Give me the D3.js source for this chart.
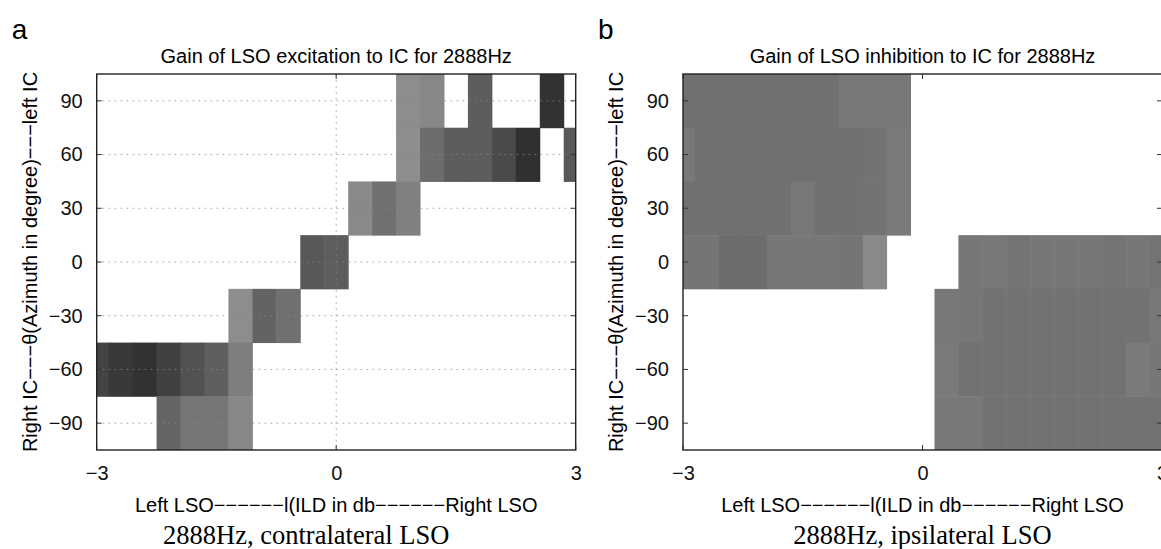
<!DOCTYPE html>
<html>
<head>
<meta charset="utf-8">
<script src="https://cdn.jsdelivr.net/npm/d3@7"></script>
<style>
  body { margin: 0; background: #fff; }
  svg { display: block; }
</style>
</head>
<body>
<div id="my_dataviz"></div>
<script>
// ILD columns (db) and azimuth rows (degree)
var ild = [-3, -2.7, -2.4, -2.1, -1.8, -1.5, -1.2, -0.9, -0.6, -0.3, 0, 0.3, 0.6, 0.9, 1.2, 1.5, 1.8, 2.1, 2.4, 2.7, 3];
var azimuth = [90, 60, 30, 0, -30, -60, -90];
var xTicks = [-3, 0, 3];
var yTicks = [90, 60, 30, 0, -30, -60, -90];

// gain of LSO excitation (contralateral), one row per azimuth
var excitation = [
  [0, 0, 0, 0, 0, 0, 0, 0, 0, 0, 0, 0, 0, 0.54, 0.57, 0, 0.77, 0, 0, 0.97, 0],
  [0, 0, 0, 0, 0, 0, 0, 0, 0, 0, 0, 0, 0, 0.54, 0.69, 0.77, 0.77, 0.86, 0.98, 0, 0.79],
  [0, 0, 0, 0, 0, 0, 0, 0, 0, 0, 0, 0.56, 0.68, 0.6, 0, 0, 0, 0, 0, 0, 0],
  [0, 0, 0, 0, 0, 0, 0, 0, 0, 0.79, 0.77, 0, 0, 0, 0, 0, 0, 0, 0, 0, 0],
  [0, 0, 0, 0, 0, 0, 0.54, 0.74, 0.68, 0, 0, 0, 0, 0, 0, 0, 0, 0, 0, 0, 0],
  [0.89, 0.94, 0.97, 0.9, 0.82, 0.76, 0.61, 0, 0, 0, 0, 0, 0, 0, 0, 0, 0, 0, 0, 0, 0],
  [0, 0, 0, 0.73, 0.65, 0.65, 0.57, 0, 0, 0, 0, 0, 0, 0, 0, 0, 0, 0, 0, 0, 0]
];

// gain of LSO inhibition (ipsilateral)
var inhibition = [
  [0.68, 0.68, 0.68, 0.68, 0.68, 0.68, 0.68, 0.64, 0.64, 0.64, 0, 0, 0, 0, 0, 0, 0, 0, 0, 0, 0],
  [0.64, 0.68, 0.68, 0.68, 0.68, 0.68, 0.68, 0.68, 0.665, 0.63, 0, 0, 0, 0, 0, 0, 0, 0, 0, 0, 0],
  [0.68, 0.68, 0.68, 0.68, 0.68, 0.64, 0.675, 0.675, 0.665, 0.63, 0, 0, 0, 0, 0, 0, 0, 0, 0, 0, 0],
  [0.655, 0.655, 0.69, 0.69, 0.645, 0.645, 0.645, 0.655, 0.56, 0, 0, 0, 0.645, 0.64, 0.66, 0.645, 0.645, 0.645, 0.66, 0.645, 0.66],
  [0, 0, 0, 0, 0, 0, 0, 0, 0, 0, 0, 0.64, 0.645, 0.67, 0.67, 0.67, 0.67, 0.67, 0.67, 0.67, 0.64],
  [0, 0, 0, 0, 0, 0, 0, 0, 0, 0, 0, 0.63, 0.67, 0.67, 0.67, 0.67, 0.67, 0.67, 0.67, 0.63, 0.645],
  [0, 0, 0, 0, 0, 0, 0, 0, 0, 0, 0, 0.64, 0.64, 0.67, 0.67, 0.67, 0.67, 0.67, 0.67, 0.67, 0.67]
];

var panels = [
  {id: "a", left: 96.7, title: "Gain of LSO excitation to IC for 2888Hz", values: excitation,
   caption: "2888Hz, contralateral LSO", captionShift: -30, grid: true},
  {id: "b", left: 683, title: "Gain of LSO inhibition to IC for 2888Hz", values: inhibition,
   caption: "2888Hz, ipsilateral LSO", captionShift: 0, grid: false}
];

var width = 479, height = 376, marginTop = 74;
var sans = "Arial, 'Liberation Sans', sans-serif";
var serif = "'Times New Roman', 'Liberation Serif', serif";

var svg = d3.select("#my_dataviz")
    .append("svg")
    .attr("width", 1161)
    .attr("height", 549);

var x = d3.scaleLinear().domain([-3, 3]).range([0, width]);
var y = d3.scaleLinear().domain([-105, 105]).range([height, 0]);
var color = d3.scaleLinear().domain([0, 1]).range(["#ffffff", "#2c2c2e"]);

panels.forEach(function(p, pi) {
    var g = svg.append("g")
        .attr("transform", "translate(" + p.left + "," + marginTop + ")");

    g.append("clipPath")
        .attr("id", "clip" + pi)
        .append("rect")
        .attr("width", width)
        .attr("height", height);

    // panel letter
    svg.append("text")
        .attr("x", p.left - 85)
        .attr("y", 39)
        .style("font-family", sans)
        .style("font-size", "28px")
        .text(p.id);

    // title
    g.append("text")
        .attr("x", width / 2)
        .attr("y", -11)
        .style("text-anchor", "middle")
        .style("font-family", sans)
        .style("font-size", "20px")
        .text(p.title);

    // cells
    var cells = [];
    p.values.forEach(function(row, r) {
        row.forEach(function(v, c) {
            if (v > 0) cells.push({x: ild[c], y: azimuth[r], v: v});
        });
    });
    g.append("g")
        .attr("clip-path", "url(#clip" + pi + ")")
        .selectAll("rect")
        .data(cells)
        .enter()
        .append("rect")
        .attr("x", function(d) { return x(d.x - 0.15); })
        .attr("y", function(d) { return y(d.y + 15); })
        .attr("width", x(0.15) - x(-0.15) + 0.5)
        .attr("height", y(-15) - y(15) + 0.5)
        .attr("fill", function(d) { return color(d.v); });

    // dotted grid
    if (p.grid) {
        g.selectAll(".hgrid")
            .data(yTicks)
            .enter()
            .append("line")
            .attr("x1", 0)
            .attr("x2", width)
            .attr("y1", function(d) { return y(d); })
            .attr("y2", function(d) { return y(d); })
            .attr("stroke", "#8a8a8a")
            .attr("stroke-width", 1)
            .attr("stroke-dasharray", "1.5,4.5")
            .attr("opacity", 0.8);
        g.append("line")
            .attr("x1", x(0))
            .attr("x2", x(0))
            .attr("y1", 0)
            .attr("y2", height)
            .attr("stroke", "#8a8a8a")
            .attr("stroke-width", 1)
            .attr("stroke-dasharray", "1.5,4.5")
            .attr("opacity", 0.8);
    }

    // inner ticks
    xTicks.forEach(function(t) {
        g.append("line").attr("x1", x(t)).attr("x2", x(t)).attr("y1", 0).attr("y2", 5)
            .attr("stroke", "#333");
        g.append("line").attr("x1", x(t)).attr("x2", x(t)).attr("y1", height).attr("y2", height - 5)
            .attr("stroke", "#333");
    });
    yTicks.forEach(function(t) {
        g.append("line").attr("x1", 0).attr("x2", 5).attr("y1", y(t)).attr("y2", y(t))
            .attr("stroke", "#333");
        g.append("line").attr("x1", width).attr("x2", width - 5).attr("y1", y(t)).attr("y2", y(t))
            .attr("stroke", "#333");
    });

    // frame
    g.append("rect")
        .attr("width", width)
        .attr("height", height)
        .attr("fill", "none")
        .attr("stroke", "#222")
        .attr("stroke-width", 1.4);

    // axes labels
    var xAxis = g.append("g")
        .attr("transform", "translate(0," + height + ")")
        .call(d3.axisBottom(x).tickValues(xTicks).tickFormat(d3.format("d")).tickSize(0).tickPadding(16));
    var yAxis = g.append("g")
        .call(d3.axisLeft(y).tickValues(yTicks).tickFormat(d3.format("d")).tickSize(0).tickPadding(14));
    [xAxis, yAxis].forEach(function(a) {
        a.select(".domain").remove();
        a.selectAll("text")
            .style("font-family", sans)
            .style("font-size", "20px")
            .attr("fill", "#111");
    });

    g.append("text")
        .attr("x", width / 2)
        .attr("y", height + 62)
        .style("text-anchor", "middle")
        .style("font-family", sans)
        .style("font-size", "20px")
        .text("Left LSO\u2212\u2212\u2212\u2212\u2212\u2212l(ILD in db\u2212\u2212\u2212\u2212\u2212\u2212Right LSO");

    g.append("text")
        .attr("transform", "translate(-60," + (height / 2) + ")rotate(-90)")
        .style("text-anchor", "middle")
        .style("font-family", sans)
        .style("font-size", "20px")
        .text("Right IC\u2212\u2212\u2212\u03b8(Azimuth in degree)\u2212\u2212\u2212left IC");

    // caption
    g.append("text")
        .attr("x", width / 2 + p.captionShift)
        .attr("y", height + 94)
        .style("text-anchor", "middle")
        .style("font-family", serif)
        .style("font-size", "26.5px")
        .text(p.caption);
});
</script>
</body>
</html>
